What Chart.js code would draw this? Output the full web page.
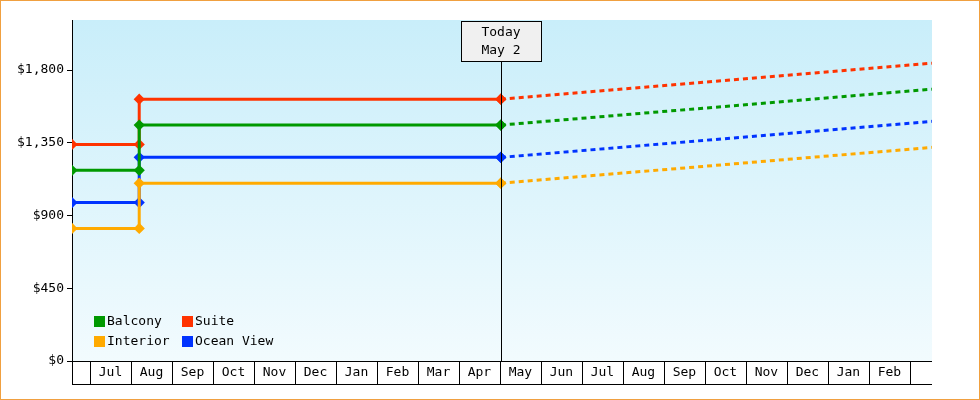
<!DOCTYPE html>
<html><head><meta charset="utf-8">
<script src="https://cdn.jsdelivr.net/npm/chart.js@4"></script>
<style>html,body{margin:0;padding:0;background:#fff}#w{width:978px;height:398px;border:1px solid #f0a040;position:relative}</style>
</head><body><div id="w"><canvas id="c"></canvas></div>
<script>
const monthLabels=["Jul","Aug","Sep","Oct","Nov","Dec","Jan","Feb","Mar","Apr","May","Jun","Jul","Aug","Sep","Oct","Nov","Dec","Jan","Feb"];
const xMin=-0.44, xMax=20.54, stepX=1.2, todayX=10.02;
const seriesNames=["Balcony","Suite","Interior","Ocean View"];
const colors=["#009900","#ff3300","#ffaa00","#0033ff"];
const before=[1180,1340,820,980];
const after=[1460,1620,1100,1260];
const forecast=[1682,1843,1322,1483];
const yTicks=[0,450,900,1350,1800];
const FONT="'DejaVu Sans Mono', monospace";
const datasets=[];
seriesNames.forEach((n,i)=>{
  datasets.push({label:n,data:[{x:xMin,y:before[i]},{x:stepX,y:before[i]},{x:stepX,y:after[i]},{x:todayX,y:after[i]}],
    borderColor:colors[i],backgroundColor:colors[i],borderWidth:3,pointRadius:[3.5,3.5,3.5,3.5],pointStyle:'rectRot',tension:0});
  datasets.push({label:n+" f",data:[{x:todayX,y:after[i]},{x:xMax,y:forecast[i]}],
    borderColor:colors[i],backgroundColor:colors[i],borderWidth:3,borderDash:[5,4],pointRadius:[3.5,0],pointStyle:'rectRot'});
});
const deco={id:'deco',
 beforeDraw(ch){const {ctx,chartArea:a}=ch;const g=ctx.createLinearGradient(0,a.top,0,a.bottom);
  g.addColorStop(0,'#c9eefa');g.addColorStop(1,'#f2fbfe');ctx.fillStyle=g;ctx.fillRect(a.left,a.top,a.right-a.left,a.bottom-a.top);},
 afterDraw(ch){const {ctx,chartArea:a,scales:{x}}=ch;ctx.save();ctx.strokeStyle='#000';ctx.lineWidth=1;
  const tx=Math.round(x.getPixelForValue(todayX))+0.5;
  ctx.beginPath();ctx.moveTo(tx,60);ctx.lineTo(tx,a.bottom);ctx.stroke();
  ctx.fillStyle='#f0f0f0';ctx.fillRect(460.5,20.5,80,40);ctx.strokeRect(460.5,20.5,80,40);
  ctx.fillStyle='#000';ctx.font='13px '+FONT;ctx.textAlign='center';ctx.textBaseline='middle';
  ctx.fillText('Today',500,32);ctx.fillText('May 2',500,50);
  // axis rows
  ctx.beginPath();ctx.moveTo(a.left,a.bottom+0.5);ctx.lineTo(a.right,a.bottom+0.5);
  ctx.moveTo(a.left,383.5);ctx.lineTo(a.right,383.5);
  for(let i=0;i<=monthLabels.length;i++){const p=Math.round(x.getPixelForValue(i))+0.5;ctx.moveTo(p,a.bottom);ctx.lineTo(p,383);}
  ctx.moveTo(a.left+0.5,a.bottom);ctx.lineTo(a.left+0.5,383);ctx.stroke();
  monthLabels.forEach((m,i)=>ctx.fillText(m,x.getPixelForValue(i+0.5),372));
  // legend
  ctx.textAlign='left';
  seriesNames.forEach((n,i)=>{const cx=93+(i%2)*88, cy=320+Math.floor(i/2)*20;
   ctx.fillStyle=colors[i];ctx.fillRect(cx,cy-5,11,11);ctx.fillStyle='#000';ctx.fillText(n,cx+13,cy+1);});
  ctx.restore();}};
new Chart(document.getElementById('c'),{type:'line',data:{datasets},plugins:[deco],
 options:{responsive:true,maintainAspectRatio:false,animation:false,
  layout:{padding:{left:0,right:47,top:19,bottom:0}},
  plugins:{legend:{display:false},tooltip:{enabled:false}},
  scales:{
   x:{type:'linear',min:xMin,max:xMax,grid:{display:false},border:{display:false},ticks:{display:false},afterFit(s){s.height=38;}},
   y:{min:0,max:2110,afterBuildTicks(s){s.ticks=yTicks.map(v=>({value:v}));},afterFit(s){s.width=71;},
    grid:{display:true,drawOnChartArea:false,drawTicks:true,tickLength:5,color:'#000'},border:{color:'#000',width:1},
    ticks:{color:'#000',font:{family:FONT,size:13},padding:3,callback:v=>'$'+v.toLocaleString('en-US')}}}}});
</script></body></html>
